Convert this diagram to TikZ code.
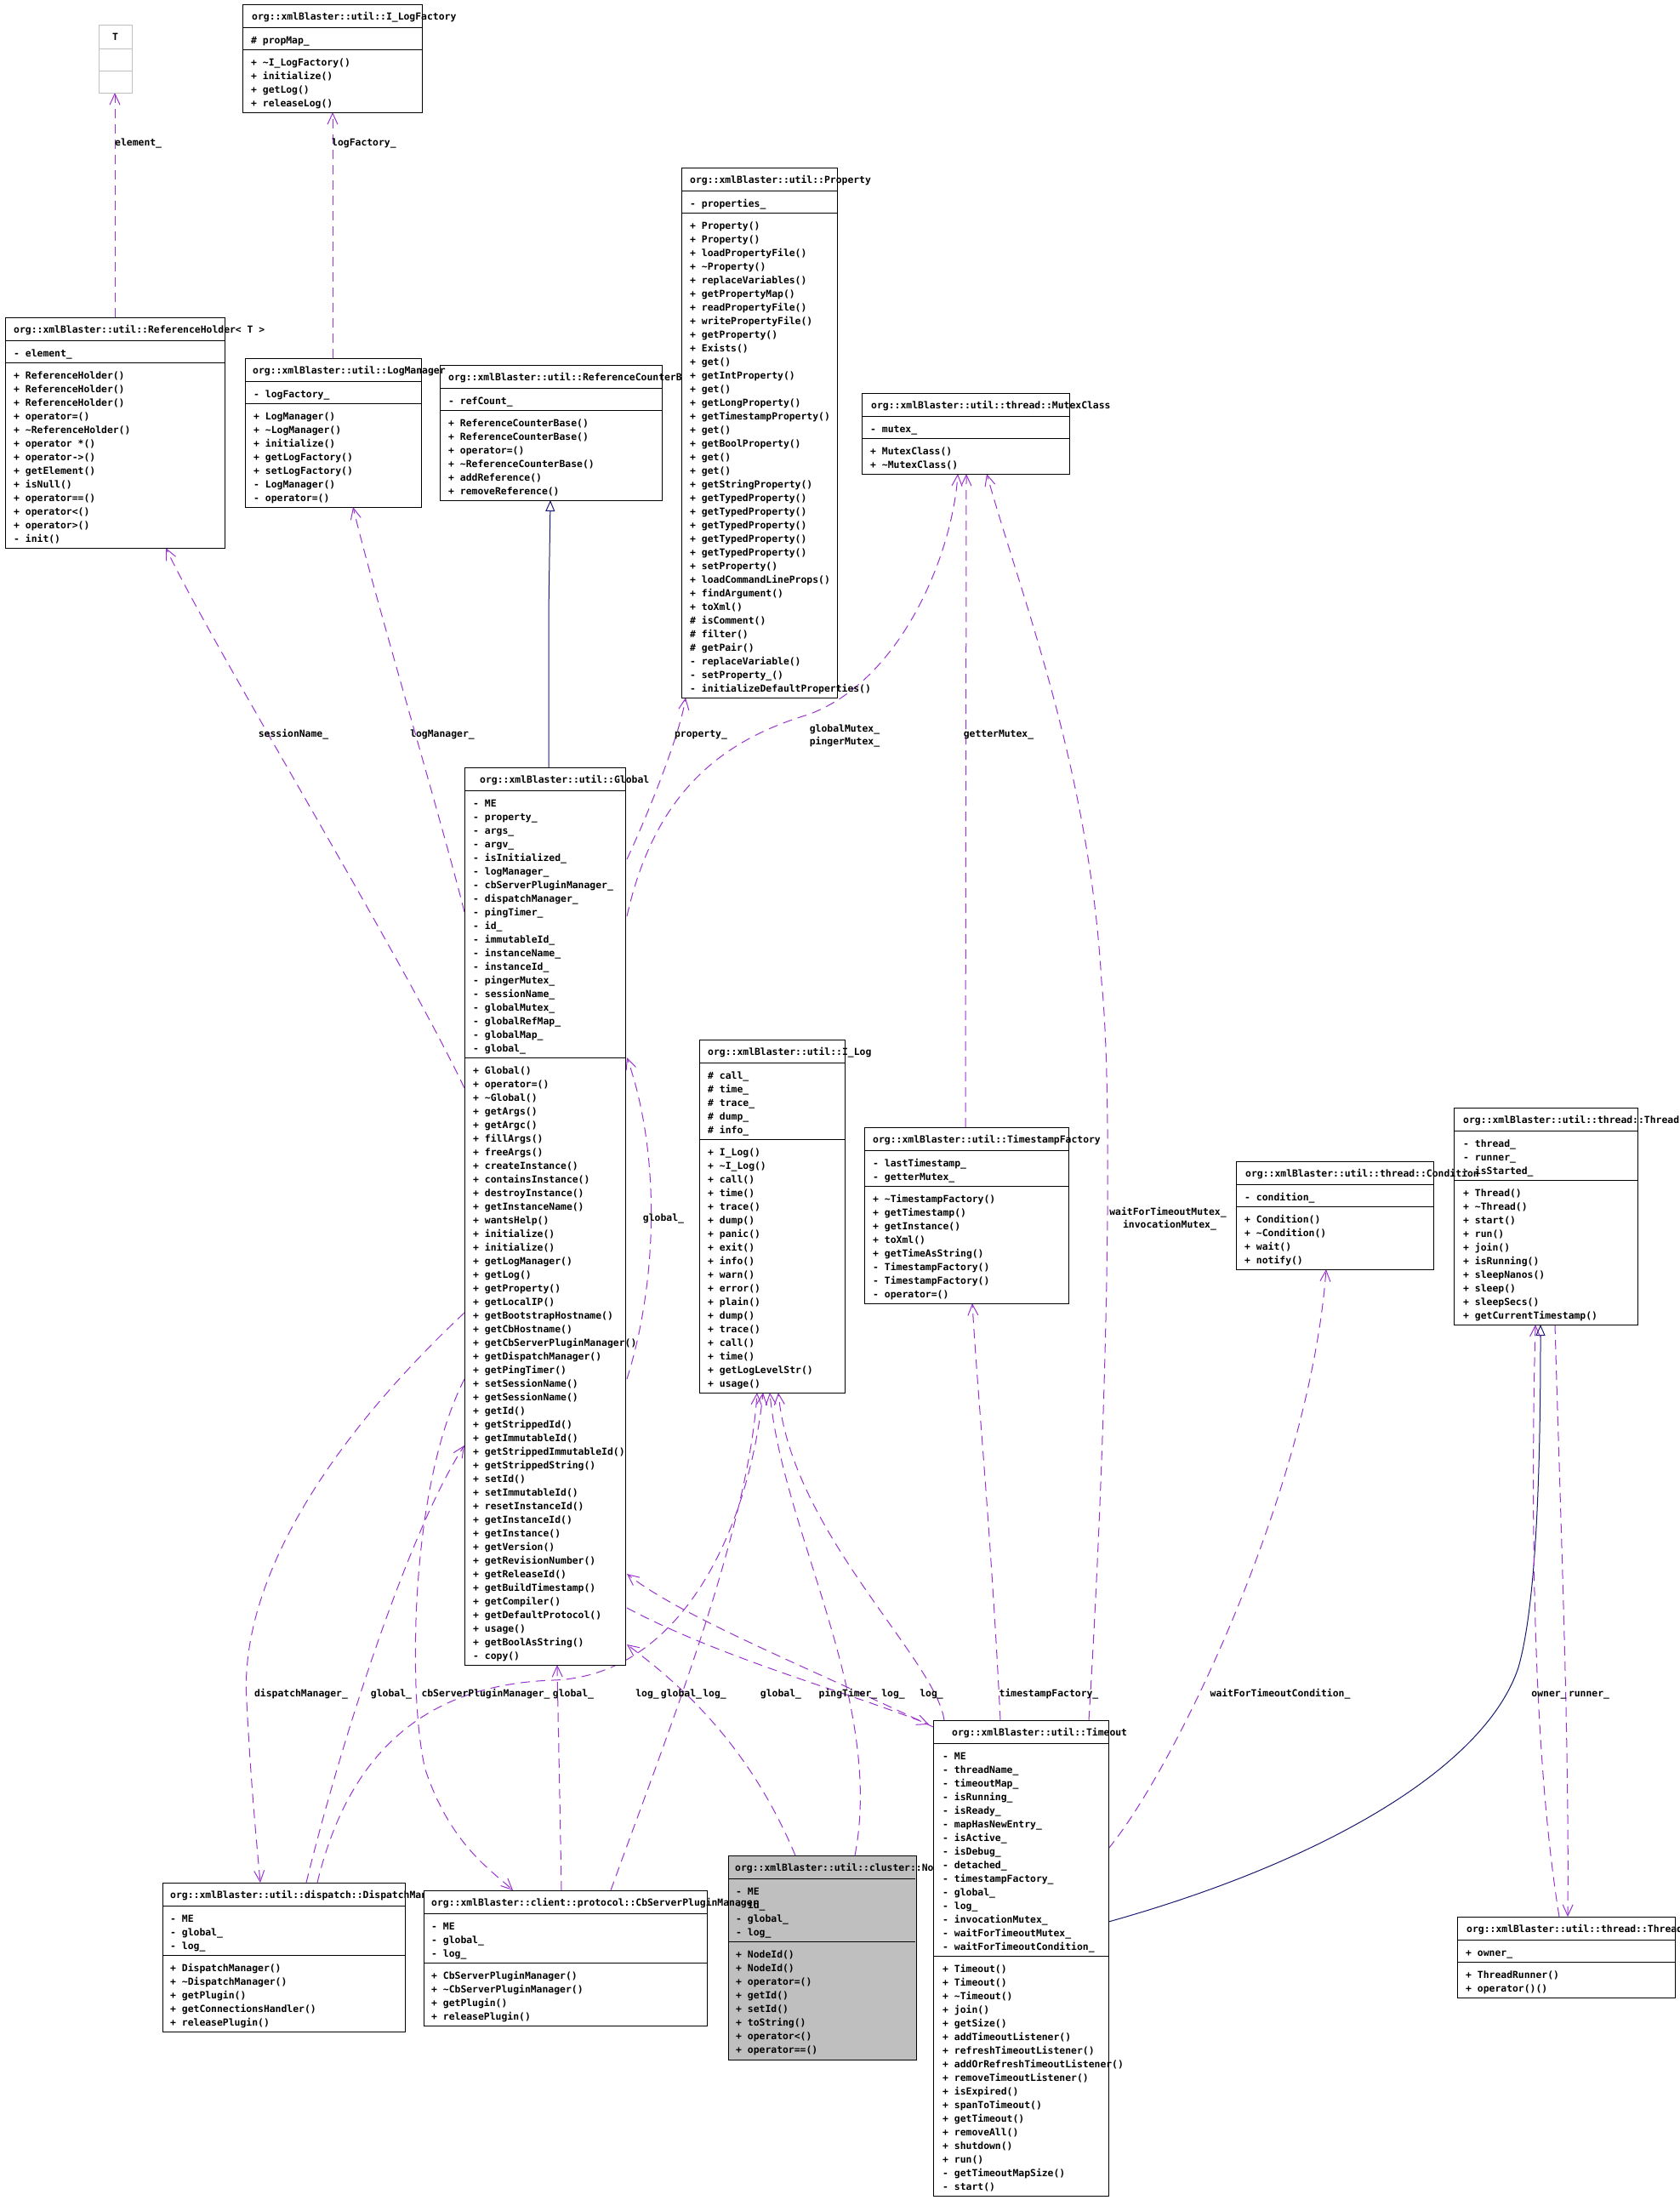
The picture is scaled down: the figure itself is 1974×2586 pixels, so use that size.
\documentclass[tikz,border=0pt]{standalone}
\usepackage{fontspec}
\setmainfont{DejaVu Sans Mono}
\usetikzlibrary{arrows.meta}
\definecolor{usec}{HTML}{9A32CD}
\definecolor{inhc}{HTML}{191970}
\definecolor{nodegray}{HTML}{BFBFBF}
\tikzset{
 txt/.style={font=\fontsize{11.4}{16}\selectfont\bfseries, inner sep=0pt, anchor=base west},
 lbl/.style={font=\fontsize{11.4}{16}\selectfont\bfseries, inner sep=0pt, anchor=base},
 use/.style={draw=usec, line width=1pt, dash pattern=on 11pt off 7pt, -{Straight Barb[length=13pt,width=12pt]}},
 inh/.style={draw=inhc, line width=1pt, -{Triangle[open,length=13pt,width=11pt,fill=white]}},
 cls/.style={draw=black, line width=1pt, fill=white, inner sep=0pt, anchor=north west},
 div/.style={draw=black, line width=1pt},
}
% name, left, top, right, d1, d2, bottom
\newcommand\umlbox[7]{%
 \node[cls, minimum width={(#4-#2)*1pt}, minimum height={(#7-#3)*1pt}] (#1) at (#2,#3) {};
 \draw[div] (#2,#5) -- (#4,#5) (#2,#6) -- (#4,#6);
}
% name prefix, x, first baseline, list
\newcommand\umllines[4]{%
 \foreach \t [count=\i from 0] in {#4} {\node[txt] (#1-\i) at (#2,#3+16*\i) {\t};}
}
\begin{document}
\begin{tikzpicture}[x=1pt,y=-1pt]
\useasboundingbox (0,0) rectangle (1974,2586);

% ---------------- connectors (drawn first) ----------------
% inheritance
\draw[inh] (645,902) -- (645,720) -- (647,588);
\draw[inh] (1303,2259) .. controls (1550,2190) and (1745,2080) .. (1785,1960) .. controls (1808,1880) and (1811,1700) .. (1811,1557);

% usage
\draw[use] (135,373) -- (135,109);
\draw[use] (391,421) -- (391,132);
\draw[use] (546,1279) .. controls (470,1120) and (250,760) .. (195,644);
\draw[use] (546,1072) .. controls (515,950) and (440,700) .. (415,596);
\draw[use] (737,1010) .. controls (765,950) and (800,860) .. (806,820);
\draw[use] (737,1077) .. controls (770,930) and (850,870) .. (950,840) .. controls (1060,800) and (1120,650) .. (1126,557);
\draw[use] (1135,1325) -- (1136,557);
\draw[use] (1280,2022) .. controls (1300,1700) and (1310,1300) .. (1295,1154) .. controls (1280,900) and (1200,700) .. (1160,557);
\draw[use] (737,1621) .. controls (775,1500) and (775,1350) .. (737,1243);
\draw[use] (1176,2022) .. controls (1165,1800) and (1150,1650) .. (1143,1532);
\draw[use] (1303,2173) .. controls (1380,2080) and (1540,1750) .. (1559,1492);
\draw[use] (1828,1557) .. controls (1835,1800) and (1845,2050) .. (1843,2253);
\draw[use] (1833,2253) .. controls (1800,2050) and (1800,1750) .. (1805,1557);
\draw[use] (546,1543) .. controls (400,1680) and (280,1850) .. (290,2000) .. controls (295,2100) and (303,2180) .. (306,2213);
\draw[use] (360,2213) .. controls (400,2050) and (480,1800) .. (546,1699);
\draw[use] (546,1621) .. controls (480,1750) and (480,2000) .. (500,2080) .. controls (530,2170) and (580,2200) .. (603,2222);
\draw[use] (660,2222) .. controls (658,2100) and (656,2020) .. (655,1957);
\draw[use] (718,2222) .. controls (780,2050) and (880,1800) .. (890,1637);
\draw[use] (935,2181) .. controls (880,2050) and (800,1980) .. (737,1933);
\draw[use] (1097,2030) .. controls (950,1960) and (800,1900) .. (737,1850);
\draw[use] (737,1890) .. controls (850,1950) and (1000,1990) .. (1092,2027);
\draw[use] (1005,2181) .. controls (1040,2000) and (920,1800) .. (905,1637);
\draw[use] (1110,2022) .. controls (1100,1950) and (930,1800) .. (915,1637);
\draw[use] (373,2213) .. controls (410,2060) and (500,1980) .. (650,1975) .. controls (800,1970) and (880,1800) .. (897,1637);

% labels
\node[lbl, anchor=base west] (l1) at (135,171) {element\_};
\node[lbl, anchor=base west] (l2) at (390,171) {logFactory\_};
\node[lbl] (l3) at (345,866) {sessionName\_};
\node[lbl] (l4) at (520,866) {logManager\_};
\node[lbl] (l5) at (824,866) {property\_};
\node[lbl] (l6) at (993,860) {globalMutex\_};
\node[lbl] (l7) at (993,875) {pingerMutex\_};
\node[lbl] (l8) at (1174,866) {getterMutex\_};
\node[lbl] (l9) at (780,1435) {global\_};
\node[lbl] (l10) at (1373,1428) {waitForTimeoutMutex\_};
\node[lbl] (l11) at (1375,1443) {invocationMutex\_};
\node[lbl] (l12) at (354,1994) {dispatchManager\_};
\node[lbl] (l13) at (460,1994) {global\_};
\node[lbl] (l14) at (571,1994) {cbServerPluginManager\_};
\node[lbl] (l15) at (674,1994) {global\_};
\node[lbl] (l16) at (761,1994) {log\_};
\node[lbl] (l17) at (801,1994) {global\_};
\node[lbl] (l18) at (840,1994) {log\_};
\node[lbl] (l19) at (918,1994) {global\_};
\node[lbl] (l20) at (997,1994) {pingTimer\_};
\node[lbl] (l21) at (1050,1994) {log\_};
\node[lbl] (l22) at (1095,1994) {log\_};
\node[lbl] (l23) at (1233,1994) {timestampFactory\_};
\node[lbl] (l24) at (1505,1994) {waitForTimeoutCondition\_};
\node[lbl] (l25) at (1821,1994) {owner\_};
\node[lbl] (l26) at (1868,1994) {runner\_};

% ---------------- classes ----------------
% T
\node[cls, draw=nodegray, minimum width=39pt, minimum height=80pt] (T) at (116,29) {};
\draw[div, draw=nodegray] (116,57) -- (155,57) (116,83) -- (155,83);
\node[lbl] (T-title) at (135.5,47) {T};

% I_LogFactory
\umlbox{ILF}{285}{5}{496}{32}{58}{132}
\node[txt] (ILF-t) at (296,23) {org::xmlBlaster::util::I\_LogFactory};
\umllines{ILFa}{295}{51}{\# propMap\_}
\umllines{ILFm}{295}{77}{+ \textasciitilde I\_LogFactory(),+ initialize(),+ getLog(),+ releaseLog()}

% ReferenceHolder
\umlbox{RH}{6}{373}{264}{400}{426}{644}
\node[txt] (RH-t) at (16,391) {org::xmlBlaster::util::ReferenceHolder< T >};
\umllines{RHa}{16}{419}{- element\_}
\umllines{RHm}{16}{445}{+ ReferenceHolder(),+ ReferenceHolder(),+ ReferenceHolder(),+ operator=(),+ \textasciitilde ReferenceHolder(),+ operator *(),+ operator->(),+ getElement(),+ isNull(),+ operator==(),+ operator<(),+ operator>(),- init()}

% ReferenceCounterBase
\umlbox{RCB}{517}{429}{778}{456}{482}{588}
\node[txt] (RCB-t) at (527,447) {org::xmlBlaster::util::ReferenceCounterBase};
\umllines{RCBa}{527}{475}{- refCount\_}
\umllines{RCBm}{527}{501}{+ ReferenceCounterBase(),+ ReferenceCounterBase(),+ operator=(),+ \textasciitilde ReferenceCounterBase(),+ addReference(),+ removeReference()}

% LogManager
\umlbox{LM}{288}{421}{495}{448}{474}{596}
\node[txt] (LM-t) at (297,439) {org::xmlBlaster::util::LogManager};
\umllines{LMa}{298}{467}{- logFactory\_}
\umllines{LMm}{298}{493}{+ LogManager(),+ \textasciitilde LogManager(),+ initialize(),+ getLogFactory(),+ setLogFactory(),- LogManager(),- operator=()}

% Property
\umlbox{Prop}{801}{197}{984}{224}{250}{820}
\node[txt] (Prop-t) at (811,215) {org::xmlBlaster::util::Property};
\umllines{Propa}{811}{243}{- properties\_}
\umllines{Propm}{811}{269}{+ Property(),+ Property(),+ loadPropertyFile(),+ \textasciitilde Property(),+ replaceVariables(),+ getPropertyMap(),+ readPropertyFile(),+ writePropertyFile(),+ getProperty(),+ Exists(),+ get(),+ getIntProperty(),+ get(),+ getLongProperty(),+ getTimestampProperty(),+ get(),+ getBoolProperty(),+ get(),+ get(),+ getStringProperty(),+ getTypedProperty(),+ getTypedProperty(),+ getTypedProperty(),+ getTypedProperty(),+ getTypedProperty(),+ setProperty(),+ loadCommandLineProps(),+ findArgument(),+ toXml(),\# isComment(),\# filter(),\# getPair(),- replaceVariable(),- setProperty\_(),- initializeDefaultProperties()}

% MutexClass
\umlbox{Mutex}{1013}{462}{1257}{489}{515}{557}
\node[txt] (Mutex-t) at (1024,480) {org::xmlBlaster::util::thread::MutexClass};
\umllines{Mutexa}{1023}{508}{- mutex\_}
\umllines{Mutexm}{1023}{534}{+ MutexClass(),+ \textasciitilde MutexClass()}

% Global
\umlbox{Global}{546}{902}{735}{929}{1243}{1957}
\node[txt] (Global-t) at (564,920) {org::xmlBlaster::util::Global};
\umllines{Globala}{556}{948}{- ME,- property\_,- args\_,- argv\_,- isInitialized\_,- logManager\_,- cbServerPluginManager\_,- dispatchManager\_,- pingTimer\_,- id\_,- immutableId\_,- instanceName\_,- instanceId\_,- pingerMutex\_,- sessionName\_,- globalMutex\_,- globalRefMap\_,- globalMap\_,- global\_}
\umllines{Globalm}{556}{1262}{+ Global(),+ operator=(),+ \textasciitilde Global(),+ getArgs(),+ getArgc(),+ fillArgs(),+ freeArgs(),+ createInstance(),+ containsInstance(),+ destroyInstance(),+ getInstanceName(),+ wantsHelp(),+ initialize(),+ initialize(),+ getLogManager(),+ getLog(),+ getProperty(),+ getLocalIP(),+ getBootstrapHostname(),+ getCbHostname(),+ getCbServerPluginManager(),+ getDispatchManager(),+ getPingTimer(),+ setSessionName(),+ getSessionName(),+ getId(),+ getStrippedId(),+ getImmutableId(),+ getStrippedImmutableId(),+ getStrippedString(),+ setId(),+ setImmutableId(),+ resetInstanceId(),+ getInstanceId(),+ getInstance(),+ getVersion(),+ getRevisionNumber(),+ getReleaseId(),+ getBuildTimestamp(),+ getCompiler(),+ getDefaultProtocol(),+ usage(),+ getBoolAsString(),- copy()}

% I_Log
\umlbox{ILog}{822}{1222}{993}{1249}{1339}{1637}
\node[txt] (ILog-t) at (832,1240) {org::xmlBlaster::util::I\_Log};
\umllines{ILoga}{832}{1268}{\# call\_,\# time\_,\# trace\_,\# dump\_,\# info\_}
\umllines{ILogm}{832}{1358}{+ I\_Log(),+ \textasciitilde I\_Log(),+ call(),+ time(),+ trace(),+ dump(),+ panic(),+ exit(),+ info(),+ warn(),+ error(),+ plain(),+ dump(),+ trace(),+ call(),+ time(),+ getLogLevelStr(),+ usage()}

% TimestampFactory
\umlbox{TS}{1016}{1325}{1256}{1352}{1394}{1532}
\node[txt] (TS-t) at (1026,1343) {org::xmlBlaster::util::TimestampFactory};
\umllines{TSa}{1026}{1371}{- lastTimestamp\_,- getterMutex\_}
\umllines{TSm}{1026}{1413}{+ \textasciitilde TimestampFactory(),+ getTimestamp(),+ getInstance(),+ toXml(),+ getTimeAsString(),- TimestampFactory(),- TimestampFactory(),- operator=()}

% Thread
\umlbox{Thread}{1709}{1302}{1925}{1329}{1387}{1557}
\node[txt] (Thread-t) at (1720,1320) {org::xmlBlaster::util::thread::Thread};
\umllines{Threada}{1720}{1348}{- thread\_,- runner\_,- isStarted\_}
\umllines{Threadm}{1720}{1406}{+ Thread(),+ \textasciitilde Thread(),+ start(),+ run(),+ join(),+ isRunning(),+ sleepNanos(),+ sleep(),+ sleepSecs(),+ getCurrentTimestamp()}

% Condition
\umlbox{Cond}{1453}{1365}{1685}{1392}{1418}{1492}
\node[txt] (Cond-t) at (1464,1383) {org::xmlBlaster::util::thread::Condition};
\umllines{Conda}{1463}{1411}{- condition\_}
\umllines{Condm}{1463}{1437}{+ Condition(),+ \textasciitilde Condition(),+ wait(),+ notify()}

% DispatchManager
\umlbox{DM}{191}{2213}{476}{2240}{2298}{2388}
\node[txt] (DM-t) at (200,2231) {org::xmlBlaster::util::dispatch::DispatchManager};
\umllines{DMa}{200}{2259}{- ME,- global\_,- log\_}
\umllines{DMm}{200}{2317}{+ DispatchManager(),+ \textasciitilde DispatchManager(),+ getPlugin(),+ getConnectionsHandler(),+ releasePlugin()}

% NodeId
\umlbox{NodeId}{856}{2181}{1076}{2208}{2282}{2420}
\path[fill=nodegray, draw=black, line width=1pt] (NodeId.north west) rectangle (NodeId.south east);
\draw[div] (856,2208) -- (1076,2208) (856,2282) -- (1076,2282);
\node[txt] (NodeId-t) at (864,2199) {org::xmlBlaster::util::cluster::NodeId};
\umllines{NodeIda}{865}{2227}{- ME,- id\_,- global\_,- log\_}
\umllines{NodeIdm}{865}{2301}{+ NodeId(),+ NodeId(),+ operator=(),+ getId(),+ setId(),+ toString(),+ operator<(),+ operator==()}

% Timeout
\umlbox{Timeout}{1097}{2022}{1303}{2049}{2299}{2581}
\node[txt] (Timeout-t) at (1119,2040) {org::xmlBlaster::util::Timeout};
\umllines{Timeouta}{1108}{2068}{- ME,- threadName\_,- timeoutMap\_,- isRunning\_,- isReady\_,- mapHasNewEntry\_,- isActive\_,- isDebug\_,- detached\_,- timestampFactory\_,- global\_,- log\_,- invocationMutex\_,- waitForTimeoutMutex\_,- waitForTimeoutCondition\_}
\umllines{Timeoutm}{1108}{2318}{+ Timeout(),+ Timeout(),+ \textasciitilde Timeout(),+ join(),+ getSize(),+ addTimeoutListener(),+ refreshTimeoutListener(),+ addOrRefreshTimeoutListener(),+ removeTimeoutListener(),+ isExpired(),+ spanToTimeout(),+ getTimeout(),+ removeAll(),+ shutdown(),+ run(),- getTimeoutMapSize(),- start()}

% CbServerPluginManager
\umlbox{CbS}{498}{2222}{831}{2249}{2307}{2381}
\node[txt] (CbS-t) at (507,2240) {org::xmlBlaster::client::protocol::CbServerPluginManager};
\umllines{CbSa}{507}{2268}{- ME,- global\_,- log\_}
\umllines{CbSm}{507}{2326}{+ CbServerPluginManager(),+ \textasciitilde CbServerPluginManager(),+ getPlugin(),+ releasePlugin()}

% ThreadRunner
\umlbox{TR}{1713}{2253}{1969}{2280}{2306}{2348}
\node[txt] (TR-t) at (1724,2271) {org::xmlBlaster::util::thread::ThreadRunner};
\umllines{TRa}{1723}{2299}{+ owner\_}
\umllines{TRm}{1723}{2325}{+ ThreadRunner(),+ operator()()}
\end{tikzpicture}
\end{document}
